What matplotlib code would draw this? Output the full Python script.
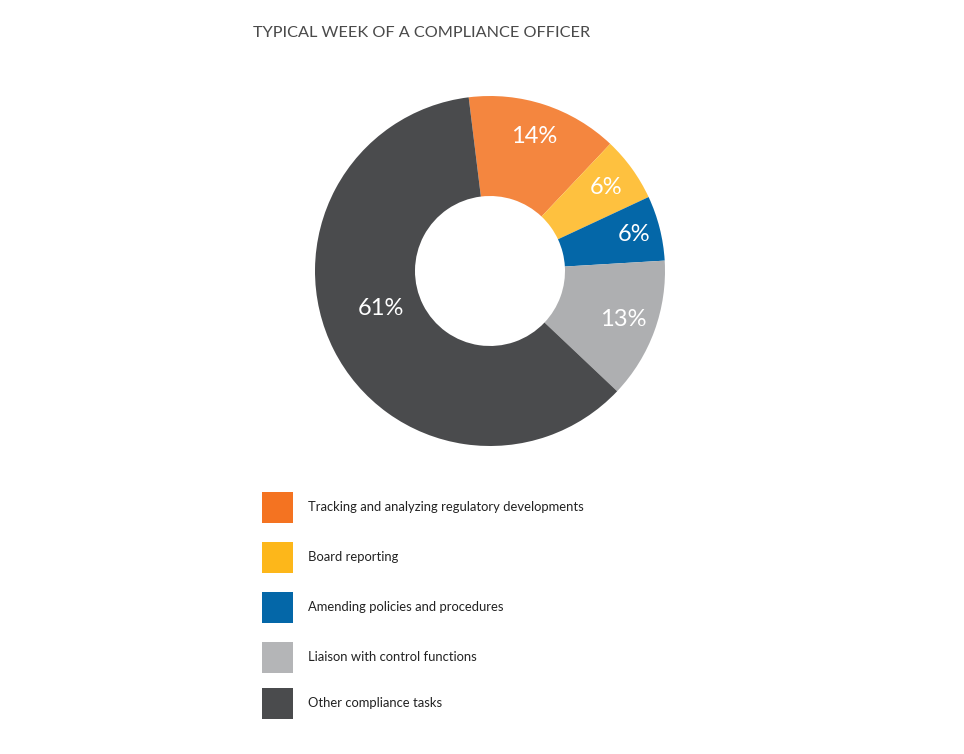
import matplotlib
matplotlib.use('Agg')
import matplotlib.pyplot as plt
import numpy as np
from matplotlib.patches import Rectangle

# data
labels = ['Tracking and analyzing regulatory developments', 'Board reporting',
          'Amending policies and procedures', 'Liaison with control functions',
          'Other compliance tasks']
shares = [14, 6, 6, 13, 61]
pct_text = ['14%', '6%', '6%', '13%', '61%']
title = 'TYPICAL WEEK OF A COMPLIANCE OFFICER'

pie_colors = ['#F4863F', '#FEC13F', '#0467A8', '#AEAFB1', '#4A4B4D']
legend_colors = ['#F47321', '#FDB71A', '#0467A8', '#B4B5B7', '#4A4B4D']
label_radius = [0.81, 0.82, 0.85, 0.81, 0.66]
label_shift = [0, 0, 0, 0, -8]  # degrees, nudges the big label like the original

W, H = 964, 754
fig = plt.figure(figsize=(W / 100, H / 100), dpi=100)
ax = fig.add_axes([0, 0, 1, 1])

cx, cy, R = 490, H - 271, 175
wedges, _ = ax.pie(shares, colors=pie_colors, startangle=97, counterclock=False,
                   center=(cx, cy), radius=R, frame=True,
                   wedgeprops=dict(width=100, linewidth=0))
ax.set_xlim(0, W)
ax.set_ylim(0, H)
ax.set_aspect('equal')
ax.axis('off')

for w, txt, rr, sh in zip(wedges, pct_text, label_radius, label_shift):
    ang = np.deg2rad((w.theta1 + w.theta2) / 2 + sh)
    ax.text(cx + rr * R * np.cos(ang), cy + rr * R * np.sin(ang), txt,
            color='white', fontsize=17, ha='center', va='center', family='Lato')

ax.text(253, H - 33, title, fontsize=11.7, color='#4a4a4a', ha='left', va='center',
        family='Lato')

# legend
rows = [507, 557, 607, 657, 703]
for lab, col, yc in zip(labels, legend_colors, rows):
    ax.add_patch(Rectangle((262, H - yc - 15.5), 31, 31, color=col, lw=0))
    ax.text(308, H - yc, lab, fontsize=9.4, color='#222222', ha='left', va='center',
            family='Lato')

plt.savefig('out.png', dpi=100)
plt.close()
